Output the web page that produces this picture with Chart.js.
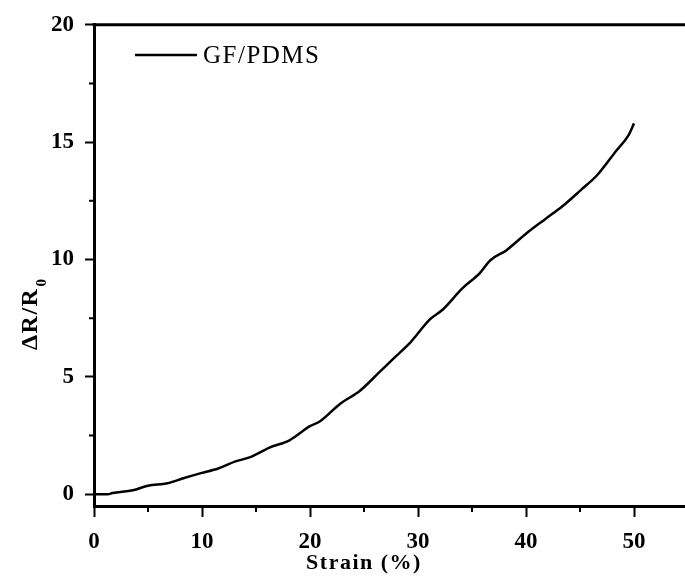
<!DOCTYPE html>
<html>
<head>
<meta charset="utf-8">
<script src="https://cdn.jsdelivr.net/npm/chart.js@4.4.0/dist/chart.umd.min.js"></script>
<style>
    html, body { margin: 0; padding: 0; background: #fff; overflow: hidden; }
    #wrap { width: 685px; height: 583px; overflow: hidden; }
</style>
</head>
<body>
<div id="wrap"><canvas id="myChart" width="700" height="583"></canvas></div>
<script>
// values
const strain = [0, 1.3, 1.7, 3.6, 5.0, 6.8, 8.2, 9.9, 11.5, 13.1, 14.4, 16.3, 18.1, 20.0, 20.9, 22.8, 24.6, 26.4, 27.7, 29.3, 31.1, 32.3, 34.1, 35.7, 36.7, 38.2, 40.0, 41.8, 43.4, 45.1, 46.6, 48.3, 49.5, 50.0];
const deltaR = [0, 0, 0.05, 0.17, 0.36, 0.47, 0.67, 0.9, 1.1, 1.4, 1.57, 2.0, 2.3, 2.9, 3.1, 3.86, 4.4, 5.19, 5.77, 6.47, 7.45, 7.87, 8.77, 9.41, 9.97, 10.4, 11.1, 11.73, 12.28, 12.97, 13.6, 14.6, 15.3, 15.8];
const xTicks = [0, 10, 20, 30, 40, 50];
const yTicks = [0, 5, 10, 15, 20];
const xMinor = [5, 15, 25, 35, 45, 55];
const yMinor = [2.5, 7.5, 12.5, 17.5];
const seriesName = 'GF/PDMS';

const tickFont = { family: 'Liberation Serif', size: 23, weight: 'bold' };

// axis extras: top frame, minor ticks, legend, titles
const decor = {
    id: 'decor',
    afterDraw(chart) {
        const ctx = chart.ctx;
        const area = chart.chartArea;
        const xs = chart.scales.x;
        const ys = chart.scales.y;
        ctx.save();
        ctx.strokeStyle = '#000';
        ctx.fillStyle = '#000';

        ctx.lineWidth = 3;
        ctx.beginPath();
        ctx.moveTo(area.left - 1.5, area.top);
        ctx.lineTo(area.right, area.top);
        ctx.stroke();

        ctx.lineWidth = 2;
        ctx.beginPath();
        xMinor.forEach(v => {
            const px = xs.getPixelForValue(v);
            ctx.moveTo(px, area.bottom);
            ctx.lineTo(px, area.bottom + 6);
        });
        yMinor.forEach(v => {
            const py = ys.getPixelForValue(v);
            ctx.moveTo(area.left, py);
            ctx.lineTo(area.left - 5, py);
        });
        ctx.stroke();

        // legend
        ctx.lineWidth = 2.5;
        ctx.beginPath();
        ctx.moveTo(135, 55);
        ctx.lineTo(197, 55);
        ctx.stroke();
        ctx.font = '25px "Liberation Serif"';
        ctx.letterSpacing = '1.5px';
        ctx.textAlign = 'left';
        ctx.textBaseline = 'middle';
        ctx.fillText(seriesName, 203, 56);

        // x title
        ctx.font = 'bold 22px "Liberation Serif"';
        ctx.textAlign = 'center';
        ctx.fillText('Strain (%)', xs.getPixelForValue(25), 563);

        // y title with subscript
        ctx.translate(37, 350);
        ctx.rotate(-Math.PI / 2);
        ctx.textAlign = 'left';
        ctx.textBaseline = 'alphabetic';
        ctx.font = 'bold 24px "Liberation Serif"';
        const main = 'ΔR/R';
        ctx.fillText(main, 0, 0);
        const w = ctx.measureText(main).width;
        ctx.font = 'bold 15px "Liberation Serif"';
        ctx.letterSpacing = '0px';
        ctx.fillText('0', w + 1, 9);
        ctx.restore();
    }
};

const ctx = document.getElementById('myChart').getContext('2d');
new Chart(ctx, {
    type: 'line',
    data: {
        datasets: [{
            label: seriesName,
            data: strain.map((s, i) => ({ x: s, y: deltaR[i] })),
            borderColor: '#000',
            borderWidth: 2.5,
            pointRadius: 0,
            cubicInterpolationMode: 'monotone',
            fill: false
        }]
    },
    options: {
        responsive: false,
        animation: false,
        devicePixelRatio: 1,
        layout: { padding: { top: 18, right: 12, left: 0, bottom: 0 } },
        plugins: { legend: { display: false }, tooltip: { enabled: false } },
        scales: {
            x: {
                type: 'linear',
                position: 'bottom',
                min: 0,
                max: 55,
                afterBuildTicks: s => { s.ticks = xTicks.map(v => ({ value: v })); },
                afterFit: s => { s.height = 77; },
                ticks: { color: '#000', font: tickFont, padding: 11, maxRotation: 0, autoSkip: false },
                grid: { drawOnChartArea: false, tickLength: 11, tickWidth: 2, tickColor: '#000' },
                border: { color: '#000', width: 3 }
            },
            y: {
                min: -0.5,
                max: 20,
                afterBuildTicks: s => { s.ticks = yTicks.map(v => ({ value: v })); },
                afterFit: s => { s.width = 94; },
                ticks: { color: '#000', font: tickFont, padding: 11 },
                grid: { drawOnChartArea: false, tickLength: 9, tickWidth: 2, tickColor: '#000' },
                border: { color: '#000', width: 3 }
            }
        }
    },
    plugins: [decor]
});
</script>
</body>
</html>
